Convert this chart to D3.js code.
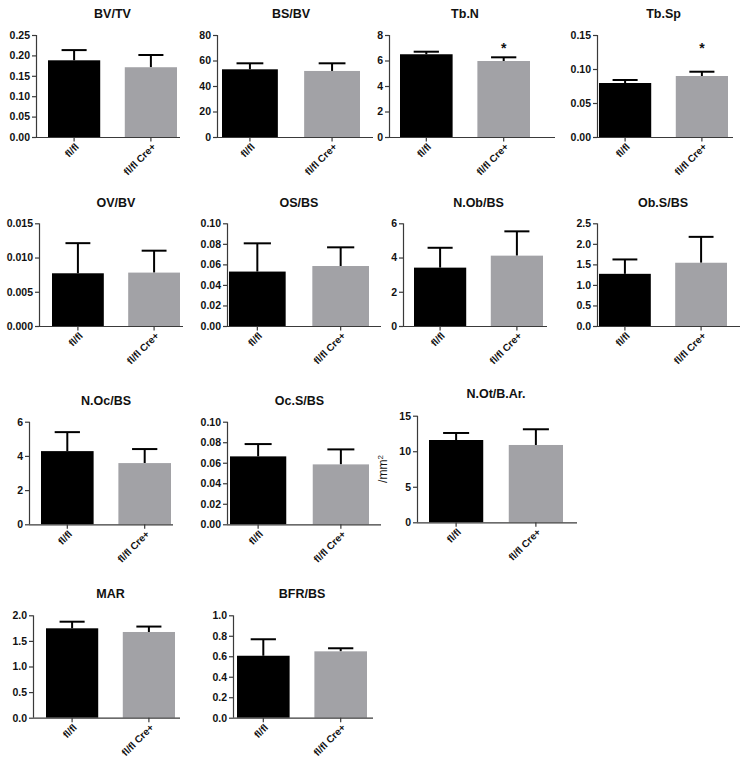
<!DOCTYPE html>
<html>
<head>
<meta charset="utf-8">
<script src="https://cdn.jsdelivr.net/npm/d3@7"></script>
<style>
  html, body { margin: 0; padding: 0; background: #fff; }
  svg { display: block; font-family: "Liberation Sans", Arial, sans-serif; }
</style>
</head>
<body>
<svg id="chart" width="749" height="765"></svg>
<script>
// ---- data ----
const groups = ["fl/fl", "fl/fl Cre+"];
const titles = ["BV/TV", "BS/BV", "Tb.N", "Tb.Sp", "OV/BV", "OS/BS", "N.Ob/BS", "Ob.S/BS",
                "N.Oc/BS", "Oc.S/BS", "N.Ot/B.Ar.", "MAR", "BFR/BS"];
const ctrlMean = [0.188, 53.1, 6.49, 0.0794, 0.0077, 0.053, 3.41, 1.27, 4.28, 0.0662, 11.58, 1.746, 0.605];
const ctrlErr  = [0.025, 4.7, 0.20, 0.0044, 0.0044, 0.0275, 1.16, 0.35, 1.11, 0.012, 0.99, 0.129, 0.161];
const creMean  = [0.171, 51.8, 5.96, 0.0897, 0.0078, 0.0584, 4.11, 1.54, 3.58, 0.0584, 10.88, 1.674, 0.648];
const creErr   = [0.030, 6.0, 0.29, 0.0063, 0.0032, 0.0182, 1.42, 0.63, 0.82, 0.0146, 2.21, 0.106, 0.030];
const yMax     = [0.25, 80, 8, 0.15, 0.015, 0.10, 6, 2.5, 6, 0.10, 15, 2.0, 1.0];
const yStep    = [0.05, 20, 2, 0.05, 0.005, 0.02, 2, 0.5, 2, 0.02, 5, 0.5, 0.2];
const yFormat  = [".2f", "d", "d", ".2f", ".3f", ".2f", "d", ".1f", "d", ".2f", "d", ".1f", ".1f"];
const signif   = [false, false, true, true, false, false, false, false, false, false, false, false, false];
const yLabels  = ["", "", "", "", "", "", "", "", "", "", "/mm", "", ""];

// ---- layout (pixel frames of each panel) ----
// [axisLeft, axisRight, barsLeft, barsRight, yTop, yBottom, titleY]
const layout = [
  [36, 180, 48, 177, 35, 137, 18],
  [217, 373, 222, 360, 35, 137, 18],
  [389, 555, 400, 530, 35, 137, 18],
  [597, 733, 599, 728, 35, 137, 18],
  [39, 183, 52, 180, 223.3, 326, 207],
  [227, 381, 229, 369, 223.3, 326, 207],
  [403, 547, 414, 543, 223.3, 326, 207],
  [597, 740, 599, 727, 223.3, 326, 207],
  [29, 173, 41, 171, 421.7, 524.3, 405],
  [227, 381, 230, 369, 421.7, 524.3, 405],
  [417, 577, 429, 563, 415.7, 522.3, 398],
  [33, 180, 46, 175, 615.3, 717.7, 598],
  [233, 373, 237, 367, 615.3, 717.7, 598]
];

const colors = ["#000000", "#a2a2a6"];
const axisColor = "#3a3a3a";
const svg = d3.select("#chart");

titles.forEach((title, i) => {
  const [ax0, ax1, b0, b1, yT, yB, tY] = layout[i];
  const g = svg.append("g");

  const x = d3.scaleBand().domain(groups).range([b0, b1]).paddingInner(0.32).paddingOuter(0);
  const y = d3.scaleLinear().domain([0, yMax[i]]).range([yB, yT]);

  const means = [ctrlMean[i], creMean[i]];
  const errs = [ctrlErr[i], creErr[i]];
  const data = groups.map((gname, k) => ({ g: gname, m: means[k], e: errs[k], c: colors[k] }));

  // error bars (upper only), drawn beneath bars
  const capHalf = x.bandwidth() * 0.24;
  data.forEach(d => {
    const cx = x(d.g) + x.bandwidth() / 2;
    g.append("line")
      .attr("x1", cx).attr("x2", cx)
      .attr("y1", y(d.m)).attr("y2", y(d.m + d.e))
      .attr("stroke", "#000").attr("stroke-width", 2);
    g.append("line")
      .attr("x1", cx - capHalf).attr("x2", cx + capHalf)
      .attr("y1", y(d.m + d.e)).attr("y2", y(d.m + d.e))
      .attr("stroke", "#000").attr("stroke-width", 2);
  });

  // bars
  g.selectAll("rect.bar").data(data).enter().append("rect")
    .attr("class", "bar")
    .attr("x", d => x(d.g))
    .attr("width", x.bandwidth())
    .attr("y", d => y(d.m))
    .attr("height", d => yB - y(d.m))
    .attr("fill", d => d.c);

  // y axis
  const ticks = d3.range(0, yMax[i] + yStep[i] / 2, yStep[i]);
  const fmt = d3.format(yFormat[i]);
  const yAxis = d3.axisLeft(y).tickValues(ticks).tickFormat(fmt).tickSize(4).tickSizeOuter(0).tickPadding(2);
  const ya = g.append("g").attr("transform", `translate(${ax0},0)`).call(yAxis);
  ya.select(".domain").attr("stroke", axisColor).attr("stroke-width", 1.2)
    .attr("d", `M0.5,${yT}V${yB}`);
  ya.selectAll(".tick line").attr("stroke", axisColor).attr("stroke-width", 1.2);
  ya.selectAll(".tick text").attr("fill", "#111").style("font-size", "10.5px").style("font-weight", "bold");

  // x axis
  const xa = g.append("g").attr("transform", `translate(0,${yB})`);
  xa.append("line").attr("x1", ax0).attr("x2", ax1).attr("y1", 0.5).attr("y2", 0.5)
    .attr("stroke", axisColor).attr("stroke-width", 1.2);
  groups.forEach(gname => {
    const cx = x(gname) + x.bandwidth() / 2;
    xa.append("line").attr("x1", cx).attr("x2", cx).attr("y1", 0).attr("y2", 4.5)
      .attr("stroke", axisColor).attr("stroke-width", 1.2);
    xa.append("text")
      .attr("transform", `translate(${cx + 3},${8}) rotate(-45)`)
      .attr("text-anchor", "end")
      .attr("dy", "0.35em")
      .attr("fill", "#111")
      .style("font-size", "10px").style("font-weight", "bold")
      .text(gname);
  });

  // title
  g.append("text")
    .attr("x", (b0 + b1) / 2).attr("y", tY)
    .attr("text-anchor", "middle")
    .attr("fill", "#111")
    .style("font-size", "12.5px").style("font-weight", "bold")
    .text(title);

  // y label
  if (yLabels[i]) {
    const t = g.append("text")
      .attr("transform", `translate(${ax0 - 30},${(yT + yB) / 2}) rotate(-90)`)
      .attr("text-anchor", "middle")
      .attr("fill", "#111")
      .style("font-size", "12px");
    t.append("tspan").text(yLabels[i]);
    t.append("tspan").attr("dy", "-0.45em").style("font-size", "8px").text("2");
  }

  // significance star
  if (signif[i]) {
    const cx = x(groups[1]) + x.bandwidth() / 2;
    g.append("text")
      .attr("x", cx).attr("y", yT + 18)
      .attr("text-anchor", "middle")
      .attr("fill", "#111")
      .style("font-size", "14px").style("font-weight", "bold")
      .text("*");
  }
});
</script>
</body>
</html>
